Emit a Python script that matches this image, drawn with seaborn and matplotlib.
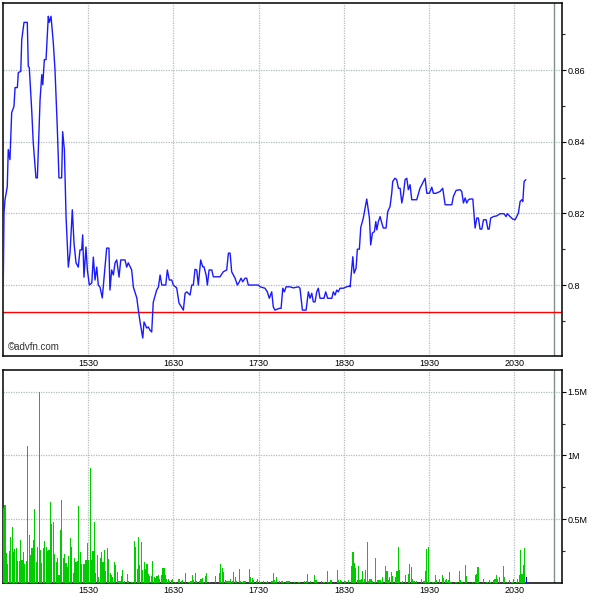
import numpy as np
import pandas as pd
import matplotlib
matplotlib.use("Agg")
import matplotlib.pyplot as plt
import seaborn as sns

# --- data (minutes after 14:30) ---
price_t = [0.2, 0.7, 1.4, 3.0, 3.7, 4.9, 6.1, 7.7, 8.5, 10.1, 10.8, 12.5, 13.2, 14.8, 17.1,
           17.8, 18.5, 20.2, 21.3, 23.2, 24.2, 26.1, 27.3, 28.0, 29.1, 30.3, 31.9, 32.6, 33.8,
           35.4, 36.6, 38.2, 39.4, 41.3, 42.0, 43.2, 44.4, 46.0, 47.2, 48.8, 50.0, 51.4, 53.0,
           54.2, 55.4, 56.1, 57.0, 58.4, 59.4, 60.8, 62.5, 63.6, 64.8, 66.0, 67.1, 68.3, 69.9,
           71.8, 73.0, 74.6, 75.3, 76.5, 77.7, 78.9, 80.1, 81.7, 82.9, 85.9, 87.1, 88.2, 90.6,
           91.8, 94.2, 95.3, 96.5, 98.4, 99.3, 101.2, 102.3, 103.5, 104.7, 105.8, 108.2, 109.4,
           110.6, 111.8, 114.6, 115.7, 117.1, 118.8, 119.9, 122.3, 123.9, 127.0, 128.2, 129.4,
           131.7, 132.9, 134.0, 135.2, 136.4, 137.5, 139.2, 140.6, 141.5, 143.0, 143.9, 145.1,
           147.0, 148.1, 152.8, 155.1, 157.5, 158.7, 159.9, 161.0, 163.4, 165.0, 166.4, 167.6,
           168.8, 170.4, 171.6, 172.7, 179.8, 181.0, 184.5, 186.1, 187.5, 189.2, 190.3, 191.5,
           194.6, 195.8, 197.0, 198.1, 199.3, 202.1, 204.4, 208.0, 209.1, 210.8, 213.4, 215.0,
           216.2, 217.4, 218.5, 219.7, 220.9, 222.0, 223.2, 226.0, 227.2, 228.6, 231.5, 232.6,
           233.8, 235.0, 236.1, 237.3, 239.6, 242.0, 243.9, 244.4, 246.3, 247.2, 248.6, 249.5,
           250.9, 251.9, 253.7, 256.1, 258.0, 258.9, 260.1, 261.5, 262.5, 263.2, 264.3, 265.5,
           266.7, 267.8, 269.7, 270.9, 272.5, 273.7, 274.4, 276.0, 277.2, 278.4, 279.6, 280.8,
           281.9, 283.1, 284.3, 285.4, 286.6, 287.8, 291.3, 293.6, 296.0, 297.2, 298.4, 300.2,
           301.9, 303.0, 304.9, 307.7, 309.6, 311.3, 316.0, 317.1, 319.0, 321.8, 323.0, 324.2,
           325.4, 326.5, 327.7, 328.9, 330.8, 332.4, 333.6, 334.7, 335.9, 337.1, 338.3, 340.2,
           341.4, 342.3, 343.4, 345.3, 347.7, 350.0, 352.8, 354.2, 355.1, 357.0, 358.9, 360.5,
           361.7, 362.9, 364.1, 365.3, 366.0, 366.9, 368.1]
price = [0.8006, 0.8201, 0.8238, 0.8274, 0.8378, 0.8350, 0.8481, 0.8498, 0.8551, 0.8551,
         0.8593, 0.8596, 0.8685, 0.8733, 0.8733, 0.8610, 0.8607, 0.8489, 0.8397, 0.8299,
         0.8299, 0.8517, 0.8587, 0.8559, 0.8629, 0.8629, 0.8750, 0.8733, 0.8750, 0.8677,
         0.8601, 0.8442, 0.8299, 0.8299, 0.8428, 0.8378, 0.8190, 0.8050, 0.8090, 0.8210,
         0.8117, 0.8062, 0.8050, 0.8098, 0.8098, 0.8140, 0.8022, 0.8106, 0.8042, 0.8000,
         0.8006, 0.8078, 0.8014, 0.8050, 0.8000, 0.7994, 0.7964, 0.8050, 0.8103, 0.8103,
         0.7986, 0.8042, 0.8028, 0.8062, 0.8070, 0.8022, 0.8070, 0.8070, 0.8050, 0.8062,
         0.8042, 0.7994, 0.7964, 0.7930, 0.7897, 0.7852, 0.7897, 0.7880, 0.7883, 0.7874,
         0.7869, 0.7952, 0.7986, 0.7994, 0.8028, 0.8000, 0.8000, 0.8042, 0.8014, 0.8014,
         0.8000, 0.7992, 0.7950, 0.7930, 0.7977, 0.7981, 0.7972, 0.8000, 0.8000, 0.8044,
         0.8042, 0.8000, 0.8070, 0.8051, 0.8051, 0.8028, 0.8000, 0.8042, 0.8042, 0.8023,
         0.8023, 0.8037, 0.8042, 0.8089, 0.8089, 0.8037, 0.8019, 0.8000, 0.8009, 0.8019,
         0.8009, 0.8019, 0.8019, 0.8000, 0.8000, 0.7995, 0.7991, 0.7981, 0.7963, 0.7981,
         0.7939, 0.7930, 0.7935, 0.7935, 0.7991, 0.7981, 0.7995, 0.7995, 0.7992, 0.7995,
         0.7991, 0.7930, 0.7930, 0.7981, 0.7963, 0.7977, 0.7953, 0.7953, 0.7981, 0.7991,
         0.7963, 0.7963, 0.7981, 0.7963, 0.7963, 0.7981, 0.7972, 0.7986, 0.7981, 0.7991,
         0.7991, 0.7995, 0.7997, 0.7995, 0.8079, 0.8033, 0.8047, 0.8100, 0.8100, 0.8161,
         0.8187, 0.8240, 0.8187, 0.8112, 0.8145, 0.8149, 0.8177, 0.8154, 0.8177, 0.8191,
         0.8173, 0.8159, 0.8159, 0.8205, 0.8219, 0.8256, 0.8289, 0.8298, 0.8294, 0.8270,
         0.8270, 0.8229, 0.8252, 0.8294, 0.8298, 0.8266, 0.8280, 0.8238, 0.8238, 0.8270,
         0.8289, 0.8298, 0.8256, 0.8256, 0.8273, 0.8256, 0.8256, 0.8261, 0.8270, 0.8224,
         0.8224, 0.8247, 0.8264, 0.8266, 0.8261, 0.8229, 0.8243, 0.8229, 0.8238, 0.8240,
         0.8240, 0.8159, 0.8187, 0.8187, 0.8156, 0.8156, 0.8182, 0.8182, 0.8156, 0.8156,
         0.8187, 0.8191, 0.8193, 0.8199, 0.8199, 0.8191, 0.8199, 0.8191, 0.8184, 0.8182,
         0.8191, 0.8201, 0.8233, 0.8238, 0.8233, 0.8289, 0.8294]

prev_close = 0.7926

# volume per minute, thousands of shares (last minute still open)
volume_k = [
    585, 611, 239, 148, 252, 364, 442, 247, 265, 278,
    169, 169, 338, 177, 247, 148, 169, 1074, 377, 221,
    273, 338, 577, 161, 286, 1500, 260, 156, 273, 333,
    286, 252, 260, 637, 460, 481, 229, 161, 200, 60,
    416, 650, 195, 229, 156, 122, 213, 356, 286, 78,
    195, 161, 169, 606, 247, 148, 151, 151, 182, 317,
    182, 902, 182, 252, 481, 78, 216, 44, 200, 247,
    161, 255, 91, 278, 187, 78, 59, 45, 166, 139,
    86, 19, 19, 53, 99, 19, 0, 67, 13, 0,
    8, 8, 326, 286, 112, 358, 139, 318, 99, 166,
    107, 147, 72, 53, 53, 174, 45, 40, 53, 62,
    32, 59, 115, 115, 59, 35, 32, 13, 21, 32,
    0, 5, 0, 35, 35, 19, 21, 0, 75, 0,
    5, 5, 19, 59, 27, 75, 13, 0, 13, 35,
    40, 5, 53, 75, 0, 5, 0, 0, 0, 53,
    0, 0, 78, 148, 117, 86, 26, 13, 18, 18,
    34, 13, 86, 47, 18, 0, 109, 13, 8, 13,
    13, 0, 0, 109, 47, 39, 21, 0, 13, 34,
    13, 8, 0, 13, 0, 8, 13, 0, 0, 13,
    78, 21, 47, 0, 13, 0, 13, 8, 0, 13,
    13, 13, 0, 0, 0, 8, 0, 0, 8, 0,
    0, 0, 13, 13, 70, 0, 13, 0, 0, 65,
    26, 0, 0, 0, 13, 8, 8, 0, 94, 8,
    21, 21, 0, 0, 0, 102, 27, 21, 13, 0,
    13, 13, 0, 27, 0, 134, 246, 155, 115, 27,
    134, 27, 32, 94, 35, 102, 321, 13, 35, 35,
    19, 8, 200, 27, 21, 21, 8, 45, 0, 134,
    94, 27, 45, 88, 53, 0, 45, 94, 286, 102,
    8, 19, 0, 61, 0, 72, 152, 126, 32, 19,
    0, 19, 0, 0, 32, 0, 19, 94, 267, 286,
    5, 0, 5, 5, 61, 27, 0, 35, 0, 61,
    40, 24, 32, 27, 86, 5, 0, 0, 11, 11,
    0, 94, 21, 11, 0, 142, 53, 0, 0, 0,
    11, 0, 59, 72, 126, 0, 0, 0, 35, 0,
    11, 11, 27, 11, 0, 27, 32, 61, 35, 45,
    0, 0, 134, 45, 0, 11, 21, 0, 11, 32,
    0, 5, 35, 61, 259, 72, 142, 275, 45,
]

hour_ticks = [60, 120, 180, 240, 300, 360]
hour_labels = ["1530", "1630", "1730", "1830", "1930", "2030"]
session_end = 388

price_ticks = [0.80, 0.82, 0.84, 0.86]
price_labels = ["0.8", "0.82", "0.84", "0.86"]
vol_ticks = [0.5e6, 1.0e6, 1.5e6]
vol_labels = ["0.5M", "1M", "1.5M"]

# --- style ---
sns.set_style("white")
plt.rcParams["font.family"] = ["Liberation Sans", "DejaVu Sans"]

price_df = pd.DataFrame({"minute": price_t, "price": price})
vol_df = pd.DataFrame({"minute": np.arange(len(volume_k)),
                       "volume": np.array(volume_k) * 1000.0})

fig = plt.figure(figsize=(6, 6), dpi=100)
ax_p = fig.add_axes([0.005, 0.4067, 0.9317, 0.5883])
ax_v = fig.add_axes([0.005, 0.0283, 0.9317, 0.355])

grid_kw = dict(color="#b3bcbc", linestyle=(0, (1, 1)), linewidth=0.9, zorder=0)
xmax = 393.6

# price panel
for t in hour_ticks:
    ax_p.axvline(t, **grid_kw)
for v in price_ticks:
    ax_p.axhline(v, **grid_kw)
ax_p.axvline(session_end, color="#7d8f8f", linewidth=1.0, zorder=0)
ax_p.axhline(prev_close, color="#ff0000", linewidth=1.0, zorder=2)
sns.lineplot(data=price_df, x="minute", y="price", ax=ax_p, color="#1a1aff",
             linewidth=1.0, sort=False, estimator=None, zorder=3)
ax_p.set_xlim(0, xmax)
ax_p.set_ylim(0.7802, 0.8787)
ax_p.set_yticks(price_ticks)
ax_p.set_yticklabels(price_labels)
ax_p.set_yticks([0.79, 0.81, 0.83, 0.85, 0.87], minor=True)
ax_p.set_xticks(hour_ticks)
ax_p.set_xticklabels(hour_labels)
ax_p.text(0.008, 0.012, "\u00a9advfn.com", transform=ax_p.transAxes,
          fontsize=7, color="#333333", ha="left", va="bottom")

# volume panel
for t in hour_ticks:
    ax_v.axvline(t, **grid_kw)
for v in vol_ticks:
    ax_v.axhline(v, **grid_kw)
ax_v.axvline(session_end, color="#7d8f8f", linewidth=1.0, zorder=0)
bar_colors = ["#00cc00"] * (len(vol_df) - 1) + ["#0000ff"]
ax_v.bar(vol_df["minute"], vol_df["volume"], width=0.8, color=bar_colors,
         linewidth=0, align="edge", zorder=3)
ax_v.set_xlim(0, xmax)
ax_v.set_ylim(0, 1.67e6)
ax_v.set_yticks(vol_ticks)
ax_v.set_yticklabels(vol_labels)
ax_v.set_yticks([0.25e6, 0.75e6, 1.25e6], minor=True)
ax_v.set_xticks(hour_ticks)
ax_v.set_xticklabels(hour_labels)

for ax in (ax_p, ax_v):
    ax.set_xlabel("")
    ax.set_ylabel("")
    ax.yaxis.tick_right()
    ax.tick_params(axis="y", which="major", length=3, width=0.8, pad=1,
                   labelsize=6.5, colors="black", direction="out")
    ax.tick_params(axis="y", which="minor", length=2, width=0.8, direction="out")
    ax.tick_params(axis="x", length=0, pad=2, labelsize=6.5, colors="black")
    for s in ax.spines.values():
        s.set_color("black")
        s.set_linewidth(1.1)

fig.savefig("out.png", dpi=100, facecolor="white")
